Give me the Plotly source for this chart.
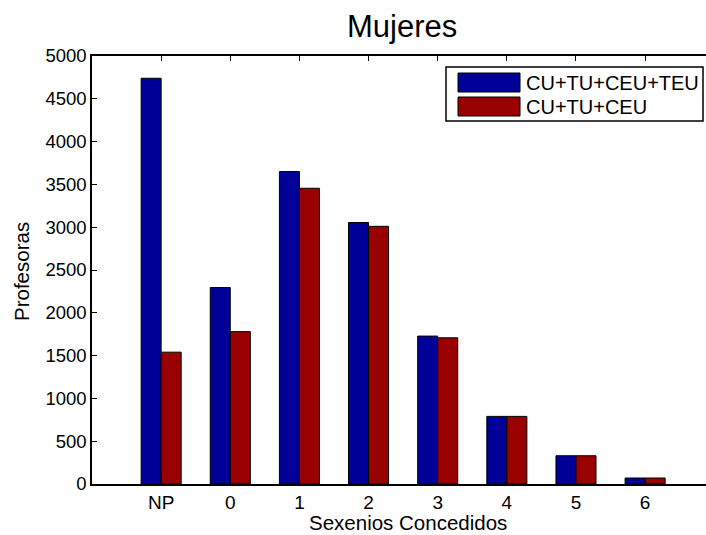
import plotly.graph_objects as go

# Sexenios concedidos a profesoras
categories = ["NP", "0", "1", "2", "3", "4", "5", "6"]
todas = [4740, 2295, 3650, 3055, 1728, 790, 330, 70]          # CU+TU+CEU+TEU
sin_teu = [1540, 1780, 3455, 3010, 1708, 790, 330, 70]        # CU+TU+CEU
series_names = ["CU+TU+CEU+TEU", "CU+TU+CEU"]
series_colors = ["#000099", "#990000"]
y_ticks = [0, 500, 1000, 1500, 2000, 2500, 3000, 3500, 4000, 4500, 5000]

FONT = "Liberation Sans, Arial, Helvetica, sans-serif"
W, H = 706, 535
L, R, T, B = 92, 0, 56, 51
pw, ph = W - L - R, H - T - B


def px(x):
    return (x - L) / pw


def py(y):
    return (H - B - y) / ph


fig = go.Figure()
for vals, name, col in zip([todas, sin_teu], series_names, series_colors):
    fig.add_trace(go.Bar(
        x=categories, y=vals, name=name,
        marker=dict(color=col, line=dict(color="black", width=1)),
    ))

# Legend drawn as a boxed key in the upper right corner
shapes = [dict(type="rect", xref="paper", yref="paper",
               x0=px(446), x1=px(703), y0=py(121), y1=py(67),
               line=dict(color="black", width=1.5), fillcolor="white", layer="above")]
annotations = []
for i, (name, col) in enumerate(zip(series_names, series_colors)):
    top = 73 + i * 24
    shapes.append(dict(type="rect", xref="paper", yref="paper",
                       x0=px(458), x1=px(520), y0=py(top + 19), y1=py(top),
                       line=dict(color="black", width=1), fillcolor=col, layer="above"))
    annotations.append(dict(text=name, xref="paper", yref="paper",
                            x=px(524), y=py(top + 10), xanchor="left", yanchor="middle",
                            showarrow=False, font=dict(size=20, color="black", family=FONT)))

annotations.append(dict(text="Sexenios Concedidos", xref="paper", yref="paper",
                        x=px(408), y=py(522), xanchor="center", yanchor="middle",
                        showarrow=False, font=dict(size=20.5, color="black", family=FONT)))
annotations.append(dict(text="Profesoras", xref="paper", yref="paper",
                        x=px(21), y=py(272), xanchor="center", yanchor="middle",
                        textangle=-90, showarrow=False,
                        font=dict(size=20.5, color="black", family=FONT)))
annotations.append(dict(text="Mujeres", xref="paper", yref="paper",
                        x=px(402), y=py(27), xanchor="center", yanchor="middle",
                        showarrow=False, font=dict(size=31, color="black", family=FONT)))

fig.update_layout(
    width=W, height=H,
    margin=dict(l=L, r=R, t=T, b=B, pad=0),
    paper_bgcolor="white", plot_bgcolor="white",
    barmode="group", bargap=0.421, bargroupgap=0,
    showlegend=False,
    font=dict(family=FONT, size=19, color="black"),
    shapes=shapes, annotations=annotations,
    xaxis=dict(
        type="category", categoryorder="array", categoryarray=categories,
        range=[-1, pw / 69.14 - 1],
        showline=True, linecolor="black", linewidth=1.5, mirror="ticks",
        ticks="inside", ticklen=5, tickcolor="black", tickwidth=1,
        showgrid=False, zeroline=False,
        tickfont=dict(size=19, family=FONT, color="black"),
    ),
    yaxis=dict(
        range=[0, 5000], tickvals=y_ticks,
        showline=True, linecolor="black", linewidth=1.5,
        ticks="inside", ticklen=5, tickcolor="black", tickwidth=1,
        showgrid=False, zeroline=False,
        tickfont=dict(size=18.5, family=FONT, color="black"),
    ),
)

fig.write_html("out.html")
